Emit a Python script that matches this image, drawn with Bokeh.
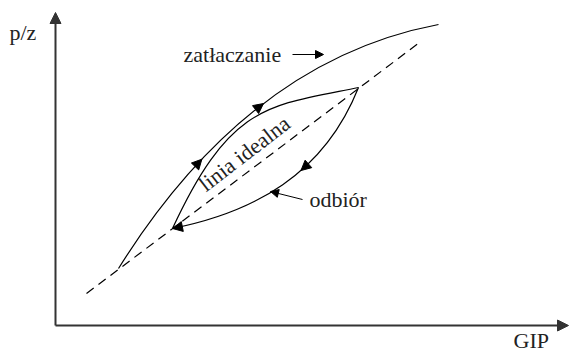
import numpy as np
from bokeh.plotting import figure
from bokeh.models import Arrow, NormalHead, Range1d
from bokeh.core.properties import value
from bokeh.embed import file_html
from bokeh.resources import INLINE

# ---- data (chart units: GIP along x, p/z along y; origin at the axis corner) ----
# injection curve ("zatłaczanie"), quadratic: start, control, end
inj_x = [63, 193, 383]
inj_y = [57, 265, 301]
# inner loop, upper branch (cubic: start, c1, c2, end)
up_x = [117, 175, 213, 303]
up_y = [97, 222, 220, 238]
# inner loop, lower branch "odbiór" (cubic: start, c1, c2, end)
low_x = [303, 268, 197, 117]
low_y = [238, 150, 113, 97]
# ideal line ("linia idealna")
ideal_x = [31, 364]
ideal_y = [32, 283]
# arrow positions along curves (curve parameter t)
inj_arrow_t = [0.30, 0.50]
low_arrow_t = [0.40, 1.00]

labels = ["p/z", "zatłaczanie", "odbiór", "GIP", "linia idealna"]

FONT = "Liberation Serif"
AX = "#333333"

p = figure(width=569, height=352, output_backend="svg", toolbar_location=None,
           x_range=Range1d(-55, 514), y_range=Range1d(-27, 325),
           x_axis_type=None, y_axis_type=None, min_border=0)
p.grid.visible = False
p.outline_line_color = None
p.background_fill_color = "white"
p.border_fill_color = "white"


def quad(P, t):
    P = np.asarray(P, float)
    return (1 - t) ** 2 * P[0] + 2 * t * (1 - t) * P[1] + t ** 2 * P[2]


def cub(P, t):
    P = np.asarray(P, float)
    return ((1 - t) ** 3 * P[0] + 3 * t * (1 - t) ** 2 * P[1]
            + 3 * t ** 2 * (1 - t) * P[2] + t ** 3 * P[3])


# axes with arrows
p.add_layout(Arrow(end=NormalHead(size=11, fill_color=AX, line_color=AX),
                   x_start=0, y_start=0, x_end=0, y_end=313,
                   line_color=AX, line_width=2))
p.add_layout(Arrow(end=NormalHead(size=11, fill_color=AX, line_color=AX),
                   x_start=0, y_start=0, x_end=513, y_end=0,
                   line_color=AX, line_width=2))

# ideal line
p.line(ideal_x, ideal_y, line_color="black", line_width=1.2, line_dash="9 6")

# curves
p.quadratic(x0=[inj_x[0]], y0=[inj_y[0]], x1=[inj_x[2]], y1=[inj_y[2]],
            cx=[inj_x[1]], cy=[inj_y[1]], line_color="black", line_width=1.2)
p.bezier(x0=[up_x[0]], y0=[up_y[0]], x1=[up_x[3]], y1=[up_y[3]],
         cx0=[up_x[1]], cy0=[up_y[1]], cx1=[up_x[2]], cy1=[up_y[2]],
         line_color="black", line_width=1.2)
p.bezier(x0=[low_x[0]], y0=[low_y[0]], x1=[low_x[3]], y1=[low_y[3]],
         cx0=[low_x[1]], cy0=[low_y[1]], cx1=[low_x[2]], cy1=[low_y[2]],
         line_color="black", line_width=1.2)

# arrowheads on curves
for t in inj_arrow_t:
    ex, ey = quad(inj_x, t), quad(inj_y, t)
    sx, sy = quad(inj_x, t - 0.01), quad(inj_y, t - 0.01)
    p.add_layout(Arrow(end=NormalHead(size=10, fill_color="black", line_color="black"),
                       x_start=sx, y_start=sy, x_end=ex, y_end=ey,
                       line_color="black", line_width=1.2))
for t in low_arrow_t:
    ex, ey = cub(low_x, t), cub(low_y, t)
    sx, sy = cub(low_x, t - 0.01), cub(low_y, t - 0.01)
    p.add_layout(Arrow(end=NormalHead(size=10, fill_color="black", line_color="black"),
                       x_start=sx, y_start=sy, x_end=ex, y_end=ey,
                       line_color="black", line_width=1.2))

# pointer arrows for labels
p.add_layout(Arrow(end=NormalHead(size=8, fill_color="black", line_color="black"),
                   x_start=237, y_start=271, x_end=268, y_end=271,
                   line_color="black", line_width=1))
p.add_layout(Arrow(end=NormalHead(size=8, fill_color="black", line_color="black"),
                   x_start=247, y_start=126, x_end=215, y_end=134,
                   line_color="black", line_width=1))

# texts
lab_x = [-46, 128, 254, 458, 146]
lab_y = [293, 271, 126, -15, 139]
lab_a = [0.0, 0.0, 0.0, 0.0, float(np.deg2rad(37.5))]
p.text(x=lab_x, y=lab_y, text=labels, angle=lab_a,
       text_font=value(FONT), text_font_size="22px", text_color="#222222",
       text_baseline="alphabetic", text_align="left")

open("out.html", "w").write(file_html(p, INLINE))
